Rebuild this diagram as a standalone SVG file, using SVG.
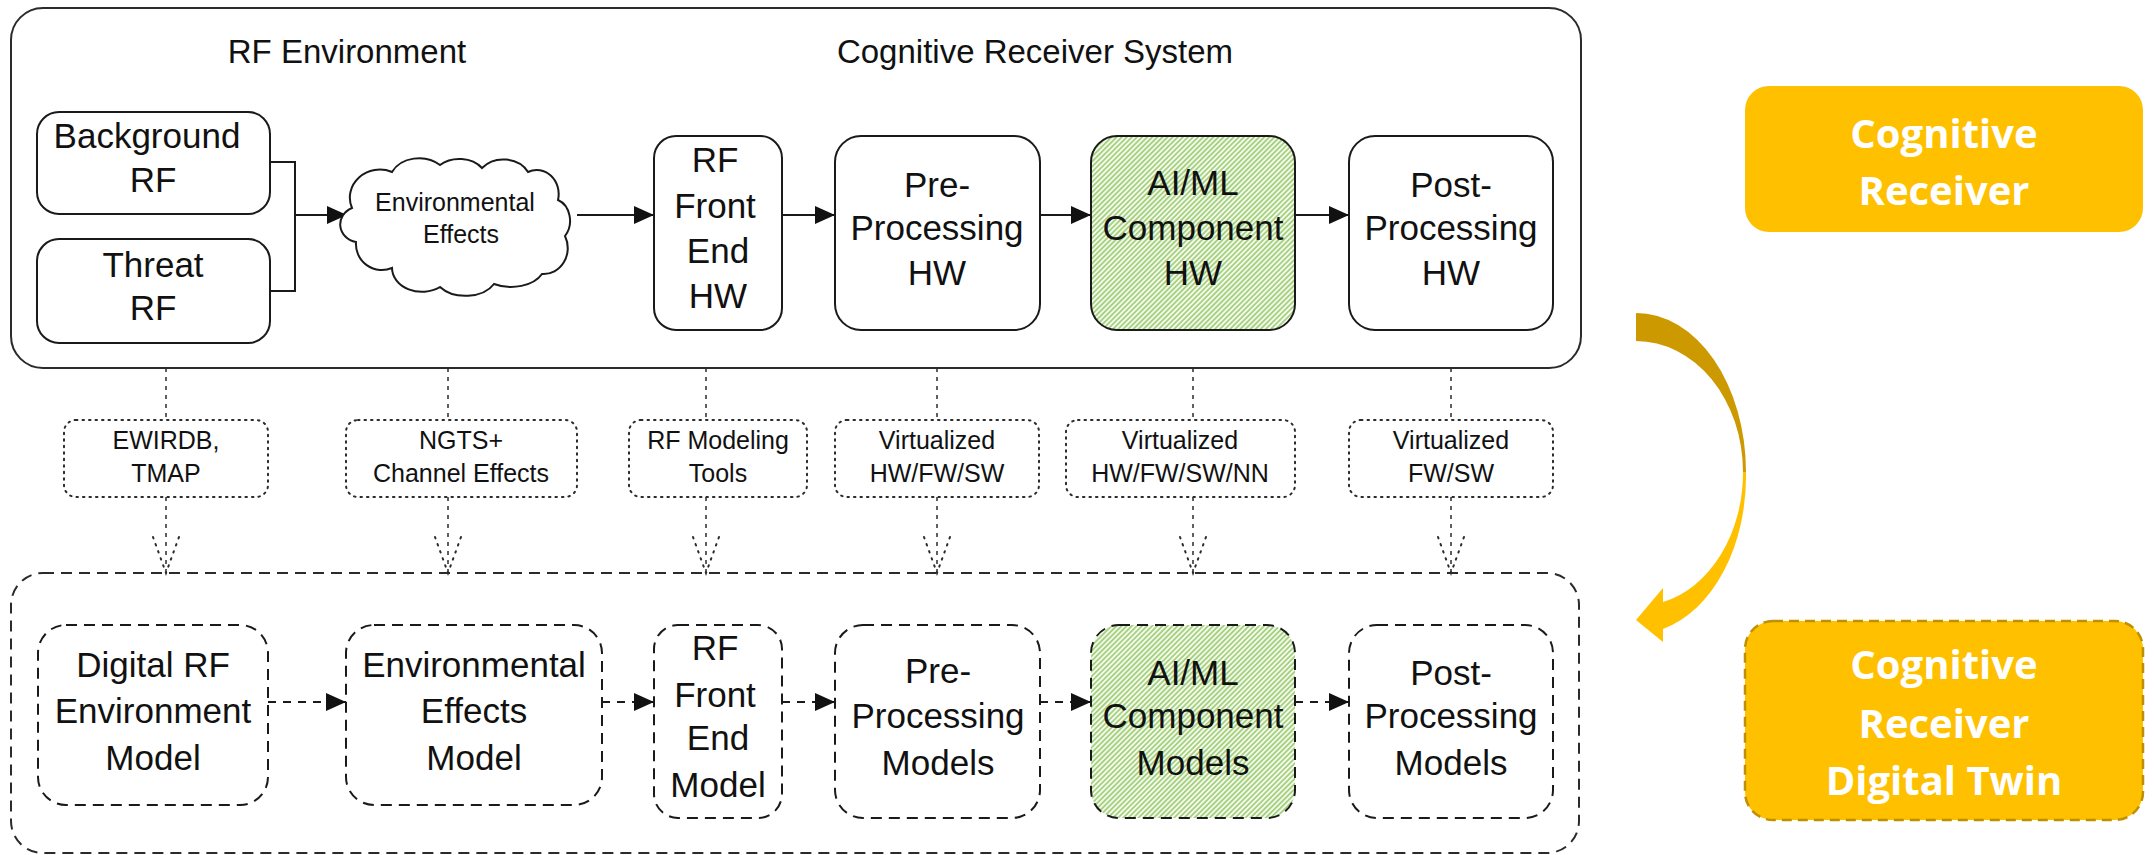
<svg xmlns="http://www.w3.org/2000/svg" width="2154" height="855" viewBox="0 0 2154 855">
  <style>
    .frame { fill: #ffffff; stroke: #2b2b2b; stroke-width: 2; }
    .frame-dash { fill: none; stroke: #2b2b2b; stroke-width: 2; stroke-dasharray: 11 7; }
    .node { fill: #ffffff; stroke: #1a1a1a; stroke-width: 2; }
    .node-dash { fill: #ffffff; stroke: #1a1a1a; stroke-width: 2; stroke-dasharray: 11 7; }
    .hatched { fill: url(#hatch); }
    .src { fill: #ffffff; stroke: #2b2b2b; stroke-width: 2; stroke-dasharray: 1.5 5; stroke-linecap: round; }
    .link { fill: none; stroke: #1a1a1a; stroke-width: 2; }
    .link-dash { fill: none; stroke: #1a1a1a; stroke-width: 2; stroke-dasharray: 8 7; }
    .drop { fill: none; stroke: #2b2b2b; stroke-width: 1.5; stroke-dasharray: 4 5; }
    .drop-dot { fill: none; stroke: #2b2b2b; stroke-width: 2; stroke-dasharray: 1.5 6; stroke-linecap: round; }
    .t { font-family: "Liberation Sans", Arial, sans-serif; fill: #111111; text-anchor: middle; }
    .title { font-size: 33px; }
    .lbl { font-size: 35px; }
    .small { font-size: 25px; }
    .badge { font-family: "Open Sans", "Liberation Sans", sans-serif; font-weight: 700; font-size: 40px; fill: #ffffff; text-anchor: middle; }
  </style>
  <defs>
    <marker id="arr" markerUnits="userSpaceOnUse" markerWidth="20" markerHeight="18" refX="20" refY="9" orient="auto">
      <path d="M0,0 L20,9 L0,18 Z" fill="#111111"/>
    </marker>
    <pattern id="hatch" width="3.6" height="3.6" patternUnits="userSpaceOnUse" patternTransform="rotate(45)">
      <rect width="3.6" height="3.6" fill="#f4faee"/>
      <rect width="1.8" height="3.6" fill="#a6d17f"/>
    </pattern>
  </defs>

  <!-- top container: physical system -->
  <g id="system-frame">
    <rect class="frame" x="11" y="8" width="1570" height="360" rx="32"/>
    <text class="t title" x="347" y="63">RF Environment</text>
    <text class="t title" x="1035" y="63">Cognitive Receiver System</text>
  </g>

  <!-- bottom container: digital twin -->
  <g id="twin-frame">
    <rect class="frame-dash" x="11" y="573" width="1568" height="280" rx="32"/>
  </g>

  <!-- connectors -->
  <g id="connectors">
    <!-- top row -->
    <polyline class="link" points="270,162 295,162 295,291 270,291"/>
    <line class="link" x1="295" y1="215" x2="347" y2="215" marker-end="url(#arr)"/>
    <line class="link" x1="577" y1="215" x2="654" y2="215" marker-end="url(#arr)"/>
    <line class="link" x1="782" y1="215" x2="835" y2="215" marker-end="url(#arr)"/>
    <line class="link" x1="1040" y1="215" x2="1091" y2="215" marker-end="url(#arr)"/>
    <line class="link" x1="1295" y1="215" x2="1349" y2="215" marker-end="url(#arr)"/>
    <!-- bottom row -->
    <line class="link-dash" x1="268" y1="702" x2="346" y2="702" marker-end="url(#arr)"/>
    <line class="link-dash" x1="602" y1="702" x2="654" y2="702" marker-end="url(#arr)"/>
    <line class="link-dash" x1="782" y1="702" x2="835" y2="702" marker-end="url(#arr)"/>
    <line class="link-dash" x1="1040" y1="702" x2="1091" y2="702" marker-end="url(#arr)"/>
    <line class="link-dash" x1="1295" y1="702" x2="1349" y2="702" marker-end="url(#arr)"/>
    <!-- system to source boxes -->
    <line class="drop" x1="166" y1="368" x2="166" y2="420"/>
    <line class="drop" x1="448" y1="368" x2="448" y2="420"/>
    <line class="drop" x1="706" y1="368" x2="706" y2="420"/>
    <line class="drop" x1="937" y1="368" x2="937" y2="420"/>
    <line class="drop" x1="1193" y1="368" x2="1193" y2="420"/>
    <line class="drop" x1="1451" y1="368" x2="1451" y2="420"/>
    <!-- source boxes to twin -->
    <line class="drop" x1="166" y1="497" x2="166" y2="573"/>
    <line class="drop" x1="448" y1="497" x2="448" y2="573"/>
    <line class="drop" x1="706" y1="497" x2="706" y2="573"/>
    <line class="drop" x1="937" y1="497" x2="937" y2="573"/>
    <line class="drop" x1="1193" y1="497" x2="1193" y2="573"/>
    <line class="drop" x1="1451" y1="497" x2="1451" y2="573"/>
    <polyline class="drop-dot" points="153,537 166,573 179,537"/>
    <polyline class="drop-dot" points="435,537 448,573 461,537"/>
    <polyline class="drop-dot" points="693,537 706,573 719,537"/>
    <polyline class="drop-dot" points="924,537 937,573 950,537"/>
    <polyline class="drop-dot" points="1180,537 1193,573 1206,537"/>
    <polyline class="drop-dot" points="1438,537 1451,573 1464,537"/>
  </g>

  <!-- physical system nodes -->
  <g id="background-rf">
    <rect class="node" x="37" y="112" width="233" height="102" rx="22"/>
    <text class="t lbl" x="147" y="148">Background</text>
    <text class="t lbl" x="153" y="192">RF</text>
  </g>
  <g id="threat-rf">
    <rect class="node" x="37" y="239" width="233" height="104" rx="22"/>
    <text class="t lbl" x="153" y="277">Threat</text>
    <text class="t lbl" x="153" y="320">RF</text>
  </g>
  <g id="environmental-effects">
    <path class="node" d="M352,208 A30,28 0 0 1 392,172 A30,24 0 0 1 440,165 A28,22 0 0 1 482,168 A28,24 0 0 1 528,172 A22,24 0 0 1 558,200 A18,22 0 0 1 565,236 A24,26 0 0 1 542,274 A34,22 0 0 1 494,284 A32,22 0 0 1 440,287 A30,24 0 0 1 392,268 A26,26 0 0 1 356,242 A20,18 0 0 1 352,208 Z"/>
    <text class="t small" x="455" y="211">Environmental</text>
    <text class="t small" x="461" y="243">Effects</text>
  </g>
  <g id="rf-front-end-hw">
    <rect class="node" x="654" y="136" width="128" height="194" rx="22"/>
    <text class="t lbl" x="715" y="172">RF</text>
    <text class="t lbl" x="715" y="218">Front</text>
    <text class="t lbl" x="718" y="263">End</text>
    <text class="t lbl" x="718" y="308">HW</text>
  </g>
  <g id="pre-processing-hw">
    <rect class="node" x="835" y="136" width="205" height="194" rx="26"/>
    <text class="t lbl" x="937" y="197">Pre-</text>
    <text class="t lbl" x="937" y="240">Processing</text>
    <text class="t lbl" x="937" y="285">HW</text>
  </g>
  <g id="ai-ml-component-hw">
    <rect class="node hatched" x="1091" y="136" width="204" height="194" rx="26"/>
    <text class="t lbl" x="1193" y="195">AI/ML</text>
    <text class="t lbl" x="1193" y="240">Component</text>
    <text class="t lbl" x="1193" y="285">HW</text>
  </g>
  <g id="post-processing-hw">
    <rect class="node" x="1349" y="136" width="204" height="194" rx="26"/>
    <text class="t lbl" x="1451" y="197">Post-</text>
    <text class="t lbl" x="1451" y="240">Processing</text>
    <text class="t lbl" x="1451" y="285">HW</text>
  </g>

  <!-- source / tooling boxes -->
  <g id="src-ewirdb">
    <rect class="src" x="64" y="420" width="204" height="77" rx="12"/>
    <text class="t small" x="166" y="449">EWIRDB,</text>
    <text class="t small" x="166" y="482">TMAP</text>
  </g>
  <g id="src-ngts">
    <rect class="src" x="346" y="420" width="231" height="77" rx="12"/>
    <text class="t small" x="461" y="449">NGTS+</text>
    <text class="t small" x="461" y="482">Channel Effects</text>
  </g>
  <g id="src-rf-modeling">
    <rect class="src" x="629" y="420" width="178" height="77" rx="12"/>
    <text class="t small" x="718" y="449">RF Modeling</text>
    <text class="t small" x="718" y="482">Tools</text>
  </g>
  <g id="src-virt-pre">
    <rect class="src" x="835" y="420" width="204" height="77" rx="12"/>
    <text class="t small" x="937" y="449">Virtualized</text>
    <text class="t small" x="937" y="482">HW/FW/SW</text>
  </g>
  <g id="src-virt-aiml">
    <rect class="src" x="1066" y="420" width="229" height="77" rx="12"/>
    <text class="t small" x="1180" y="449">Virtualized</text>
    <text class="t small" x="1180" y="482">HW/FW/SW/NN</text>
  </g>
  <g id="src-virt-post">
    <rect class="src" x="1349" y="420" width="204" height="77" rx="12"/>
    <text class="t small" x="1451" y="449">Virtualized</text>
    <text class="t small" x="1451" y="482">FW/SW</text>
  </g>

  <!-- digital twin nodes -->
  <g id="digital-rf-env-model">
    <rect class="node-dash" x="38" y="625" width="230" height="180" rx="28"/>
    <text class="t lbl" x="153" y="677">Digital RF</text>
    <text class="t lbl" x="153" y="723">Environment</text>
    <text class="t lbl" x="153" y="770">Model</text>
  </g>
  <g id="env-effects-model">
    <rect class="node-dash" x="346" y="625" width="256" height="180" rx="28"/>
    <text class="t lbl" x="474" y="677">Environmental</text>
    <text class="t lbl" x="474" y="723">Effects</text>
    <text class="t lbl" x="474" y="770">Model</text>
  </g>
  <g id="rf-front-end-model">
    <rect class="node-dash" x="654" y="625" width="128" height="193" rx="24"/>
    <text class="t lbl" x="715" y="660">RF</text>
    <text class="t lbl" x="715" y="707">Front</text>
    <text class="t lbl" x="718" y="750">End</text>
    <text class="t lbl" x="718" y="797">Model</text>
  </g>
  <g id="pre-processing-models">
    <rect class="node-dash" x="835" y="625" width="205" height="193" rx="28"/>
    <text class="t lbl" x="938" y="683">Pre-</text>
    <text class="t lbl" x="938" y="728">Processing</text>
    <text class="t lbl" x="938" y="775">Models</text>
  </g>
  <g id="ai-ml-component-models">
    <rect class="node-dash hatched" x="1091" y="625" width="204" height="193" rx="28"/>
    <text class="t lbl" x="1193" y="685">AI/ML</text>
    <text class="t lbl" x="1193" y="728">Component</text>
    <text class="t lbl" x="1193" y="775">Models</text>
  </g>
  <g id="post-processing-models">
    <rect class="node-dash" x="1349" y="625" width="204" height="193" rx="28"/>
    <text class="t lbl" x="1451" y="685">Post-</text>
    <text class="t lbl" x="1451" y="728">Processing</text>
    <text class="t lbl" x="1451" y="775">Models</text>
  </g>

  <!-- curved arrow: system to twin -->
  <g id="twin-arrow">
    <path d="M1636,313 A110,159 0 0 1 1746,472 L1743,472 A107,131 0 0 0 1636,341 Z" fill="#cc9900"/>
    <path d="M1746,472 A110,158 0 0 1 1663,629 L1663,642 L1636,620 L1663,588 L1663,602 A104,133 0 0 0 1743,472 Z" fill="#ffc000"/>
  </g>

  <!-- legend badges -->
  <g id="badge-receiver">
    <rect x="1745" y="86" width="398" height="146" rx="24" fill="#ffc000"/>
    <text class="badge" x="1944" y="148">Cognitive</text>
    <text class="badge" x="1944" y="205">Receiver</text>
  </g>
  <g id="badge-twin">
    <rect x="1745" y="621" width="398" height="199" rx="28" fill="#ffc000" stroke="#bf9000" stroke-width="2.5" stroke-dasharray="10 6"/>
    <text class="badge" x="1944" y="679">Cognitive</text>
    <text class="badge" x="1944" y="738">Receiver</text>
    <text class="badge" x="1944" y="795">Digital Twin</text>
  </g>
</svg>
